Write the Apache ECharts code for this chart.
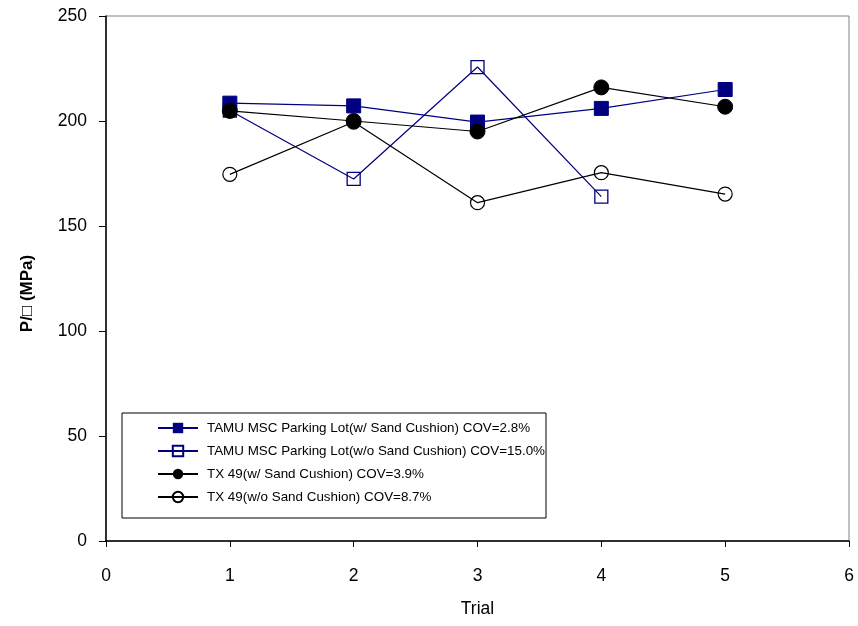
<!DOCTYPE html>
<html><head><meta charset="utf-8">
<script src="https://cdn.jsdelivr.net/npm/echarts@6/dist/echarts.min.js"></script>
<style>html,body{margin:0;padding:0;background:#fff}#c{width:858px;height:626px}</style>
</head><body><div id="c"></div>
<script>
const trials = [1, 2, 3, 4, 5];
const tamuWith = [208.5, 207.2, 199.5, 206.0, 215.0];
const tamuWithout = [205.0, 172.4, 225.7, 164.0];
const tx49With = [204.8, 200.0, 195.0, 216.0, 206.8];
const tx49Without = [174.6, 199.5, 161.1, 175.4, 165.2];
const seriesNames = [
  'TAMU MSC Parking Lot(w/ Sand Cushion) COV=2.8%',
  'TAMU MSC Parking Lot(w/o Sand Cushion) COV=15.0%',
  'TX 49(w/ Sand Cushion) COV=3.9%',
  'TX 49(w/o Sand Cushion) COV=8.7%'
];
const xTicks = [0, 1, 2, 3, 4, 5, 6];
const yTicks = [0, 50, 100, 150, 200, 250];

function pairs(vals){ return vals.map((v,i)=>[trials[i], v]); }

const navy = '#000080';
const font = '"Liberation Sans", Arial, sans-serif';
const chart = echarts.init(document.getElementById('c'), null, {renderer:'canvas'});
chart.setOption({
  animation: false,
  backgroundColor: '#fff',
  grid: {left: 106, right: 9, top: 16, bottom: 85, show: true, borderColor: '#808080', borderWidth: 1},
  xAxis: {
    type: 'value', min: xTicks[0], max: xTicks[xTicks.length-1], interval: 1,
    name: 'Trial', nameLocation: 'middle', nameGap: 59,
    nameTextStyle: {fontFamily: font, fontSize: 17.5, color: '#000'},
    axisLine: {lineStyle: {color: '#000', width: 1.5}},
    axisTick: {show: true, length: 6, lineStyle: {color: '#000'}},
    axisLabel: {fontFamily: font, fontSize: 17.5, color: '#000', margin: 26},
    splitLine: {show: false}
  },
  yAxis: {
    type: 'value', min: yTicks[0], max: yTicks[yTicks.length-1], interval: 50,
    name: 'P/\u25A1 (MPa)', nameLocation: 'middle', nameGap: 70,
    nameTextStyle: {fontFamily: font, fontSize: 17, fontWeight: 'bold', color: '#000', padding: [0, 30, 0, 0]},
    axisLine: {show: true, lineStyle: {color: '#000', width: 1.5}},
    axisTick: {show: true, length: 7, lineStyle: {color: '#000'}},
    axisLabel: {fontFamily: font, fontSize: 17.5, color: '#000', margin: 19},
    splitLine: {show: false}
  },
  legend: {
    orient: 'vertical', left: 122, top: 413,
    padding: [8, 1, 14, 35],
    borderColor: '#000', borderWidth: 1, backgroundColor: '#fff',
    itemWidth: 40, itemHeight: 13, itemGap: 9,
    textStyle: {fontFamily: font, fontSize: 13.4, lineHeight: 14, color: '#000', padding: [0,0,0,4]},
    data: seriesNames
  },
  series: [
    {name: seriesNames[0], type: 'line', data: pairs(tamuWith), symbol: 'rect', symbolSize: 14,
     lineStyle: {color: navy, width: 1.2}, itemStyle: {color: navy, borderColor: navy}, z: 3},
    {name: seriesNames[1], type: 'line', data: pairs(tamuWithout), symbol: 'rect', symbolSize: 13,
     lineStyle: {color: navy, width: 1.2}, itemStyle: {color: 'rgba(0,0,0,0)', borderColor: navy, borderWidth: 1.3}, z: 2},
    {name: seriesNames[2], type: 'line', data: pairs(tx49With), symbol: 'circle', symbolSize: 15,
     lineStyle: {color: '#000', width: 1.2}, itemStyle: {color: '#000', borderColor: '#000'}, z: 4},
    {name: seriesNames[3], type: 'line', data: pairs(tx49Without), symbol: 'circle', symbolSize: 14,
     lineStyle: {color: '#000', width: 1.2}, itemStyle: {color: 'rgba(0,0,0,0)', borderColor: '#000', borderWidth: 1.2}, z: 2}
  ]
});
</script></body></html>
